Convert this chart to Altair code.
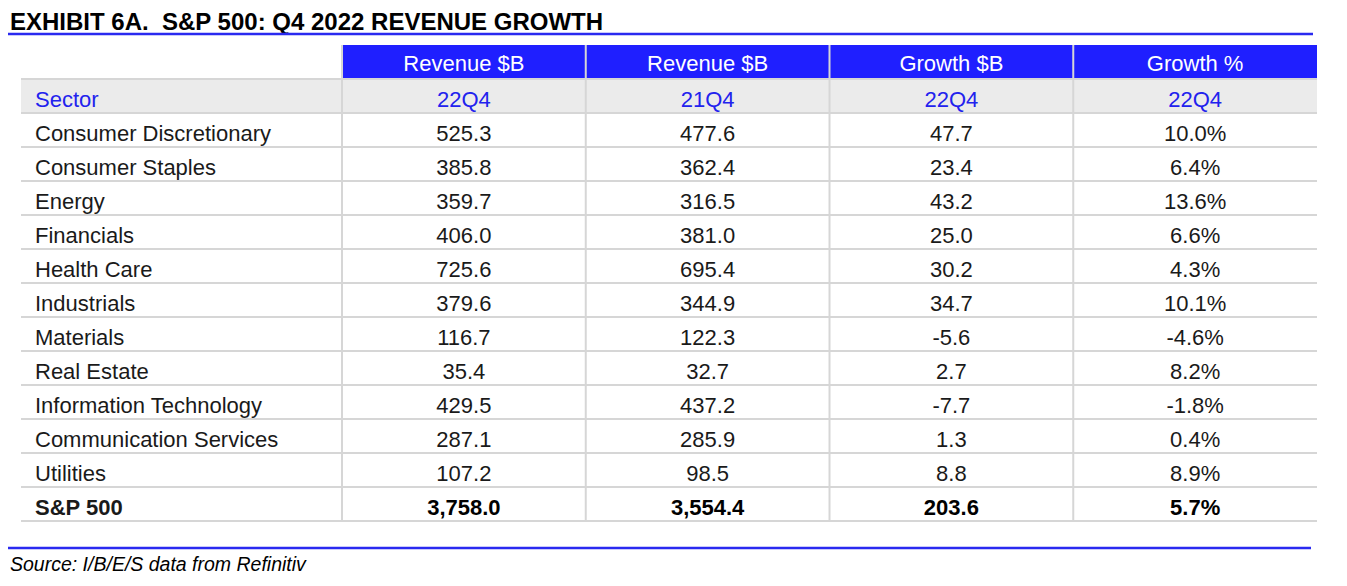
import altair as alt
import pandas as pd

# ---------------- data ----------------
title_text = "EXHIBIT 6A.\u00a0 S&P 500: Q4 2022 REVENUE GROWTH"
source_text = "Source: I/B/E/S data from Refinitiv"
first_col_title = "Sector"
col_titles = ["Revenue $B", "Revenue $B", "Growth $B", "Growth %"]
col_periods = ["22Q4", "21Q4", "22Q4", "22Q4"]

sectors = ["Consumer Discretionary", "Consumer Staples", "Energy", "Financials",
           "Health Care", "Industrials", "Materials", "Real Estate",
           "Information Technology", "Communication Services", "Utilities", "S&P 500"]
rev_22q4 = [525.3, 385.8, 359.7, 406.0, 725.6, 379.6, 116.7, 35.4, 429.5, 287.1, 107.2, 3758.0]
rev_21q4 = [477.6, 362.4, 316.5, 381.0, 695.4, 344.9, 122.3, 32.7, 437.2, 285.9, 98.5, 3554.4]
growth_b = [47.7, 23.4, 43.2, 25.0, 30.2, 34.7, -5.6, 2.7, -7.7, 1.3, 8.8, 203.6]
growth_pct = [10.0, 6.4, 13.6, 6.6, 4.3, 10.1, -4.6, 8.2, -1.8, 0.4, 8.9, 5.7]

# ---------------- layout / style ----------------
W, H = 1296, 476
N_ROWS = 2 + len(sectors)
LEFT, RIGHT = -1.317, 4
BLUE = "#1f1fff"
TEXT_BLUE = "#2222ee"
GRAY_BG = "#ebebeb"
LINE = "#d6d6d6"
INK = "#1a1a1a"
FONT = "Liberation Sans"
FS = 22
DY = 11

xs = alt.Scale(domain=[LEFT, RIGHT], nice=False, zero=False)
ys = alt.Scale(domain=[0, N_ROWS], nice=False, zero=False, reverse=True)

# ---------------- tables ----------------
rects = pd.DataFrame(
    [dict(x=j, x2=j + 1, y=0, y2=1, c=BLUE) for j in range(len(col_titles))]
    + [dict(x=LEFT, x2=RIGHT, y=1, y2=2, c=GRAY_BG)]
)
hlines = pd.DataFrame([dict(x=LEFT, x2=RIGHT, y=k) for k in range(1, N_ROWS + 1)])
vlines = pd.DataFrame([dict(x=j, y=0, y2=N_ROWS) for j in range(len(col_titles))])

head = pd.DataFrame([dict(x=j + 0.5, y=0.5, label=t) for j, t in enumerate(col_titles)])
sub = pd.DataFrame([dict(x=j + 0.5, y=1.5, label=t) for j, t in enumerate(col_periods)])
sector_hdr = pd.DataFrame([dict(x=LEFT, y=1.5, label=first_col_title)])

cells, labels = [], []
for i, s in enumerate(sectors):
    r = i + 2.5
    bold = i == len(sectors) - 1
    vals = [f"{rev_22q4[i]:,.1f}", f"{rev_21q4[i]:,.1f}", f"{growth_b[i]:,.1f}", f"{growth_pct[i]:.1f}%"]
    for j, v in enumerate(vals):
        cells.append(dict(x=j + 0.5, y=r, label=v, bold=bold))
    labels.append(dict(x=LEFT, y=r, label=s, bold=bold))
cells = pd.DataFrame(cells)
labels = pd.DataFrame(labels)

X = alt.X("x:Q", scale=xs, axis=None)
Y = alt.Y("y:Q", scale=ys, axis=None)

rect_layer = alt.Chart(rects).mark_rect().encode(
    x=X, x2="x2:Q", y=Y, y2="y2:Q", color=alt.Color("c:N", scale=None))
hline_layer = alt.Chart(hlines).mark_rule(color=LINE, strokeWidth=2).encode(x=X, x2="x2:Q", y=Y)
vline_layer = alt.Chart(vlines).mark_rule(color=LINE, strokeWidth=2).encode(x=X, y=Y, y2="y2:Q")


def txt(df, color, align="center", weight="normal", dx=0, dy=DY):
    return alt.Chart(df).mark_text(
        align=align, baseline="alphabetic", dy=dy, dx=dx, font=FONT, fontSize=FS,
        fontWeight=weight, color=color).encode(x=X, y=Y, text="label:N")


head_layer = txt(head, "white", dy=9)
sub_layer = txt(sub, TEXT_BLUE)
sector_hdr_layer = txt(sector_hdr, TEXT_BLUE, align="left", dx=14)
cell_norm = txt(cells[~cells.bold], INK)
cell_bold = txt(cells[cells.bold], "black", weight="bold")
lab_norm = txt(labels[~labels.bold], INK, align="left", dx=14)
lab_bold = txt(labels[labels.bold], INK, align="left", weight="bold", dx=14)

title_layer = alt.Chart(pd.DataFrame({"t": [title_text]})).mark_text(
    align="left", baseline="alphabetic", font=FONT, fontSize=24, fontWeight="bold", color="black"
).encode(x=alt.value(-11), y=alt.value(-15), text="t:N")
source_layer = alt.Chart(pd.DataFrame({"t": [source_text]})).mark_text(
    align="left", baseline="alphabetic", font=FONT, fontSize=19.5, fontStyle="italic", color="black"
).encode(x=alt.value(-11), y=alt.value(526), text="t:N")
top_rule = alt.Chart(pd.DataFrame({"a": [0]})).mark_rule(color="#2a2af0", strokeWidth=2.5).encode(
    x=alt.value(-18), x2=alt.value(1292), y=alt.value(-11))
bot_rule = alt.Chart(pd.DataFrame({"a": [0]})).mark_rule(color="#2a2af0", strokeWidth=2.5).encode(
    x=alt.value(-18), x2=alt.value(1290), y=alt.value(503))

chart = alt.layer(
    rect_layer, hline_layer, vline_layer,
    head_layer, sub_layer, sector_hdr_layer,
    cell_norm, cell_bold, lab_norm, lab_bold,
    title_layer, source_layer, top_rule, bot_rule,
).properties(
    width=W, height=H,
    padding={"left": 13, "top": 37, "right": 22, "bottom": 57},
    autosize=alt.AutoSizeParams(type="none"),
    background="white",
).configure_view(stroke=None)

chart.save("out.html", embed_options={"renderer": "svg", "actions": False})
